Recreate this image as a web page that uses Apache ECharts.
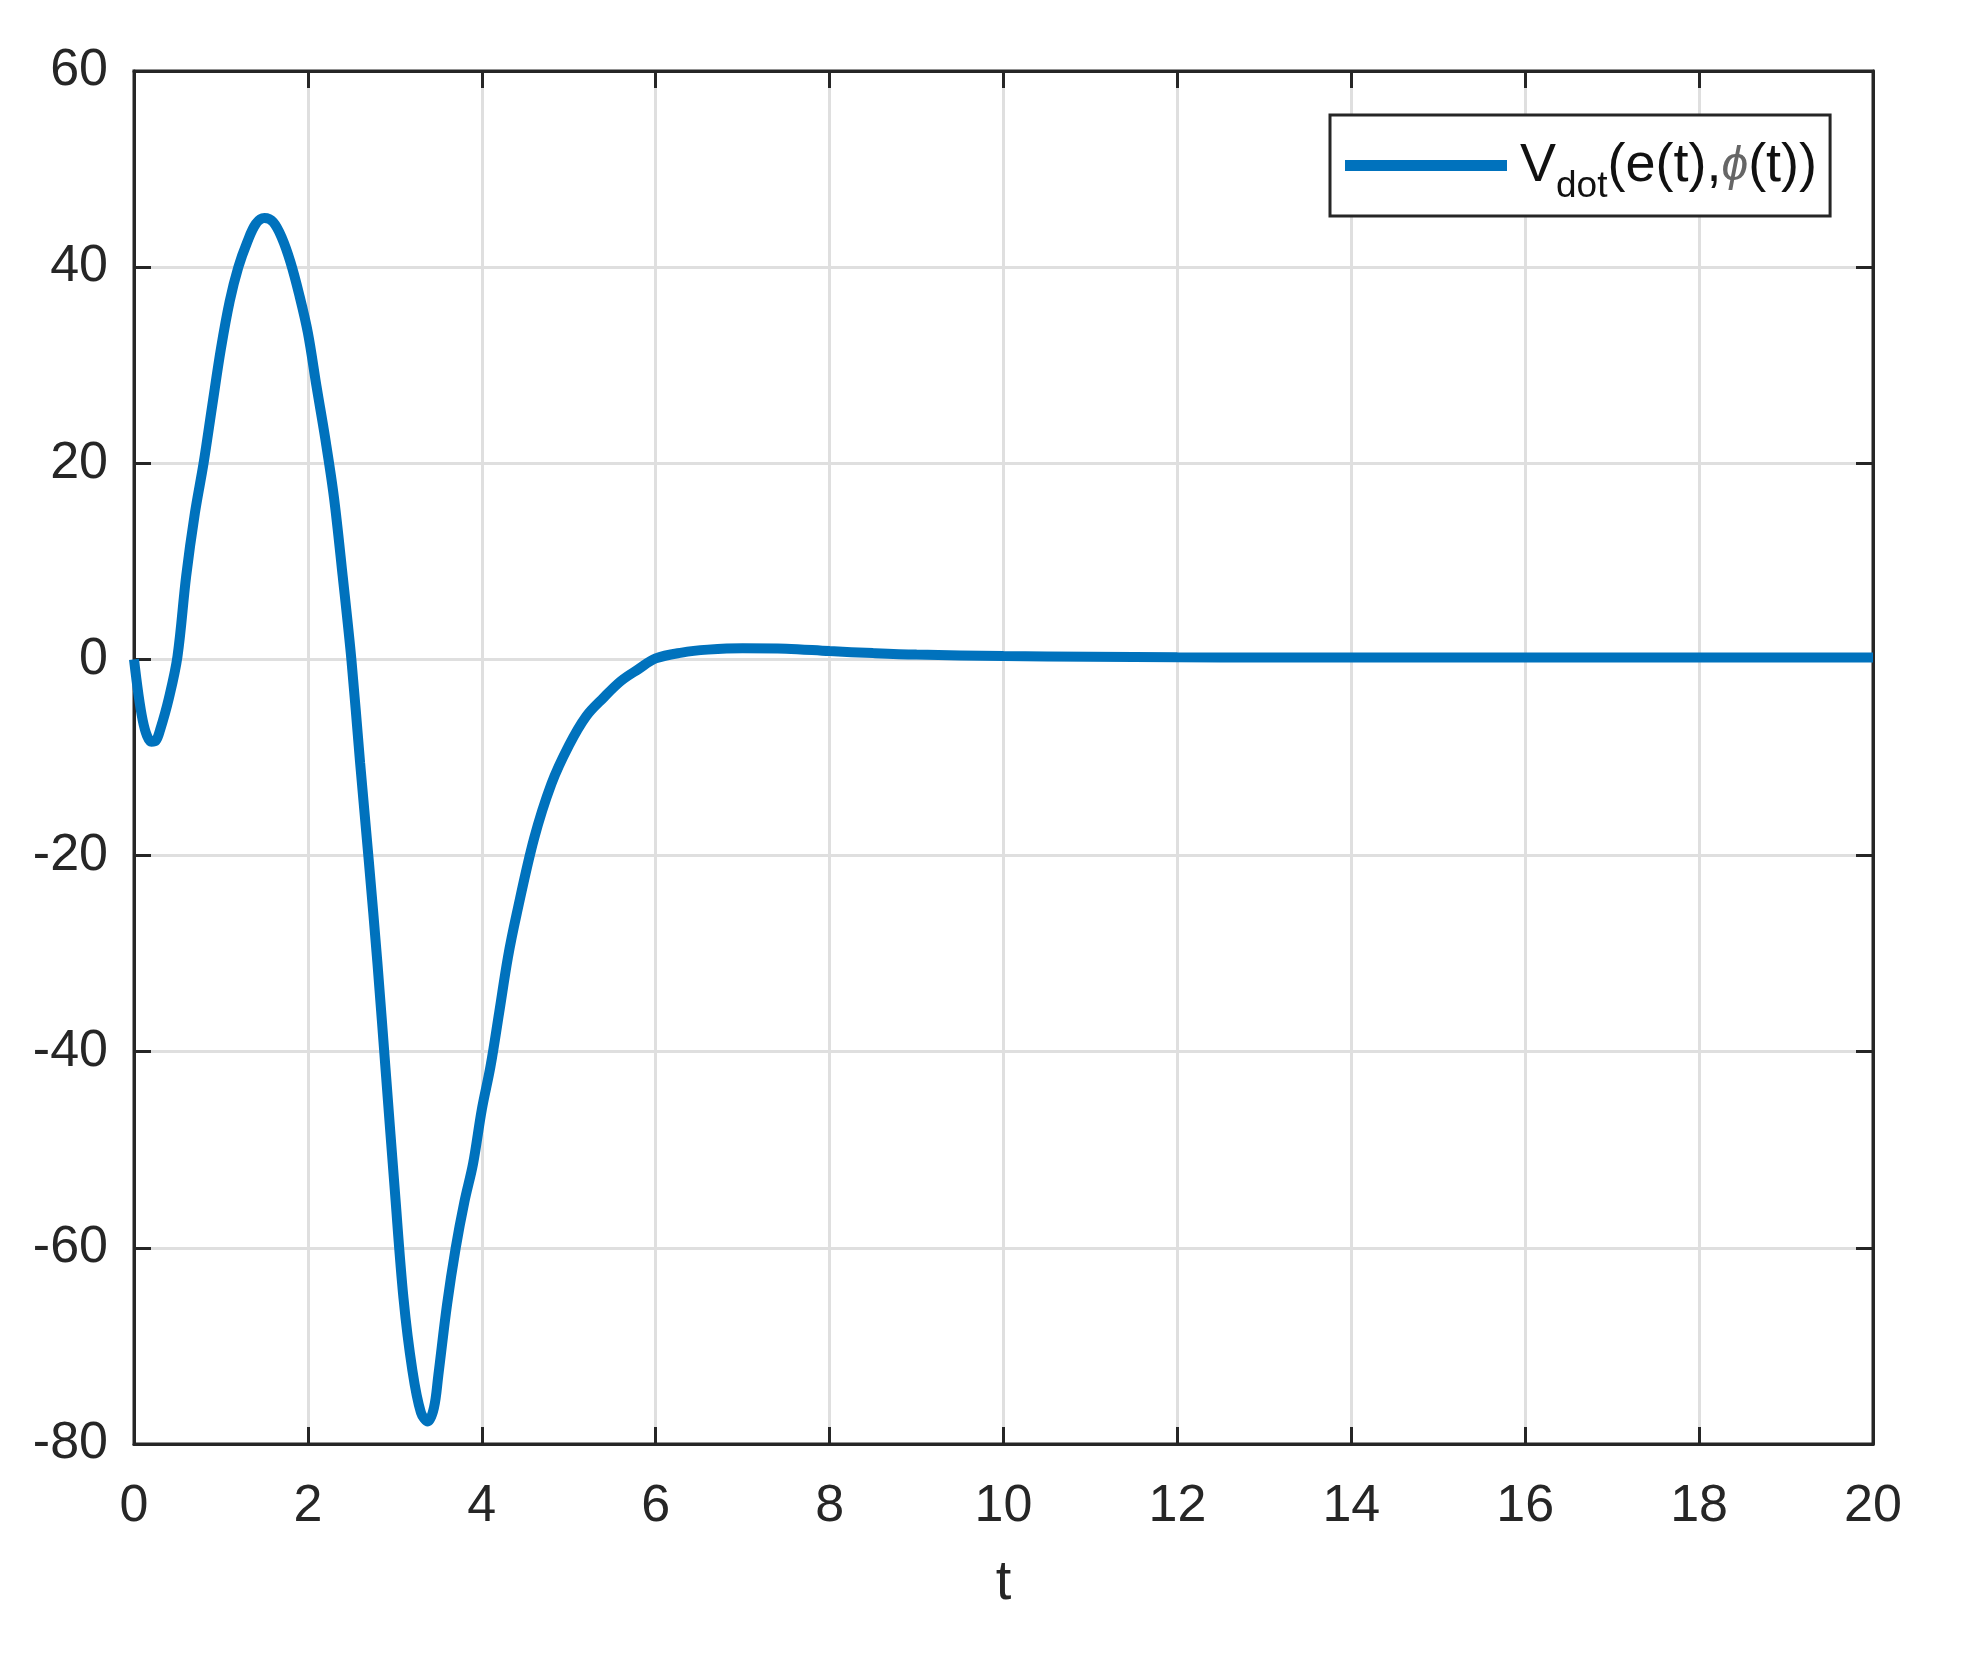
<!DOCTYPE html>
<html>
<head>
<meta charset="utf-8">
<script src="https://cdn.jsdelivr.net/npm/echarts@6/dist/echarts.min.js"></script>
<style>
html,body{margin:0;padding:0;background:#fff;}
#chart{width:1965px;height:1669px;}
</style>
</head>
<body>
<div id="chart"></div>
<script>
// ---- data ----
const tValues = [0, 0.05, 0.1, 0.15, 0.2, 0.25, 0.3, 0.4, 0.5, 0.6, 0.7, 0.8, 0.9, 1.0, 1.1, 1.2, 1.3, 1.4, 1.5, 1.6, 1.7, 1.8, 1.9, 2.0, 2.1, 2.2, 2.3, 2.4, 2.5, 2.6, 2.7, 2.8, 2.9, 3.0, 3.1, 3.2, 3.3, 3.38, 3.45, 3.5, 3.6, 3.7, 3.8, 3.9, 4.0, 4.1, 4.2, 4.3, 4.4, 4.6, 4.8, 5.0, 5.2, 5.4, 5.6, 5.8, 6.0, 6.3, 6.6, 7.0, 7.5, 8.0, 8.5, 9.0, 10, 11, 12, 13, 14, 16, 18, 20];
const vDotValues = [0, -3.5, -6.2, -7.8, -8.4, -8.3, -7.2, -4.0, 0.3, 8.5, 14.9, 20, 25.9, 31.7, 36.5, 40, 42.5, 44.4, 45.0, 44.6, 43.0, 40.5, 37.2, 33.3, 27.8, 22.5, 16.5, 8.5, 0, -10.5, -20.5, -31, -42.6, -54.2, -65.2, -72.4, -76.8, -77.7, -76.3, -73, -65.8, -60, -55.3, -51.4, -45.9, -41.5, -36, -30.4, -26, -18.3, -12.7, -8.8, -5.8, -3.9, -2.2, -1.0, 0.1, 0.7, 1.0, 1.15, 1.1, 0.85, 0.65, 0.5, 0.35, 0.28, 0.22, 0.2, 0.2, 0.2, 0.2, 0.2];
const xTicks = [0, 2, 4, 6, 8, 10, 12, 14, 16, 18, 20];
const yTicks = [-80, -60, -40, -20, 0, 20, 40, 60];
const xName = 't';
const seriesName = 'Vdot';

const axisColor = '#262626';
const gridColor = '#dfdfdf';
const font = '"Liberation Sans", Arial, Helvetica, sans-serif';

const chart = echarts.init(document.getElementById('chart'), null, {renderer: 'canvas'});
const pairs = tValues.map((t, i) => [t, vDotValues[i]]);

const baseX = {
  type: 'value', min: xTicks[0], max: xTicks[xTicks.length - 1], interval: 2
};
const baseY = {
  type: 'value', min: yTicks[0], max: yTicks[yTicks.length - 1], interval: 20
};

chart.setOption({
  animation: false,
  backgroundColor: '#ffffff',
  grid: {
    left: 134, top: 71, right: 92, bottom: 225,
    show: true, borderColor: axisColor, borderWidth: 3, backgroundColor: 'transparent'
  },
  legend: {
    show: true,
    left: 1330, top: 115,
    orient: 'vertical',
    backgroundColor: '#ffffff',
    borderColor: axisColor, borderWidth: 3, borderRadius: 0,
    padding: [24, 13, 11, 15],
    itemWidth: 162, itemHeight: 11, itemGap: 10,
    icon: 'rect',
    data: [{name: seriesName, itemStyle: {color: '#0072BD'}}],
    formatter: function () {
      return '{v0|V}{s|dot}{v|(e(t),}{p|ϕ}{v|(t))}';
    },
    textStyle: {
      color: '#000000',
      fontFamily: font,
      rich: {
        v0: {fontSize: 54, fontFamily: font, color: '#111', verticalAlign: 'top', lineHeight: 53, padding: [0, 0, 0, 8]},
        v: {fontSize: 54, fontFamily: font, color: '#111', verticalAlign: 'top', lineHeight: 53},
        s: {fontSize: 37, fontFamily: font, color: '#111', verticalAlign: 'top', lineHeight: 53, padding: [29, 0, 0, 0]},
        p: {fontSize: 48, fontFamily: font, color: '#666', fontStyle: 'italic', verticalAlign: 'top', lineHeight: 53, padding: [4, 0, 0, 0]}
      }
    }
  },
  xAxis: [
    Object.assign({}, baseX, {
      position: 'bottom',
      name: xName, nameLocation: 'middle', nameGap: 112,
      nameTextStyle: {fontSize: 56, color: axisColor, fontFamily: font},
      axisLine: {show: true, onZero: false, lineStyle: {color: axisColor, width: 3}},
      axisTick: {show: true, inside: true, length: 17, lineStyle: {color: axisColor, width: 3}},
      axisLabel: {show: true, margin: 37, fontSize: 52, color: axisColor, fontFamily: font},
      splitLine: {show: true, lineStyle: {color: gridColor, width: 3}}
    }),
    Object.assign({}, baseX, {
      position: 'top',
      axisLine: {show: true, onZero: false, lineStyle: {color: axisColor, width: 3}},
      axisTick: {show: true, inside: true, length: 17, lineStyle: {color: axisColor, width: 3}},
      axisLabel: {show: false},
      splitLine: {show: false}
    })
  ],
  yAxis: [
    Object.assign({}, baseY, {
      position: 'left',
      axisLine: {show: true, onZero: false, lineStyle: {color: axisColor, width: 3}},
      axisTick: {show: true, inside: true, length: 17, lineStyle: {color: axisColor, width: 3}},
      axisLabel: {show: true, margin: 26, fontSize: 52, color: axisColor, fontFamily: font},
      splitLine: {show: true, lineStyle: {color: gridColor, width: 3}}
    }),
    Object.assign({}, baseY, {
      position: 'right',
      axisLine: {show: true, onZero: false, lineStyle: {color: axisColor, width: 3}},
      axisTick: {show: true, inside: true, length: 17, lineStyle: {color: axisColor, width: 3}},
      axisLabel: {show: false},
      splitLine: {show: false}
    })
  ],
  series: [{
    name: seriesName,
    type: 'line',
    xAxisIndex: 0, yAxisIndex: 0,
    data: pairs,
    showSymbol: false,
    symbol: 'none',
    smooth: 0.35,
    lineStyle: {color: '#0072BD', width: 10},
    itemStyle: {color: '#0072BD'},
    clip: true,
    z: 3
  }]
});
</script>
</body>
</html>
